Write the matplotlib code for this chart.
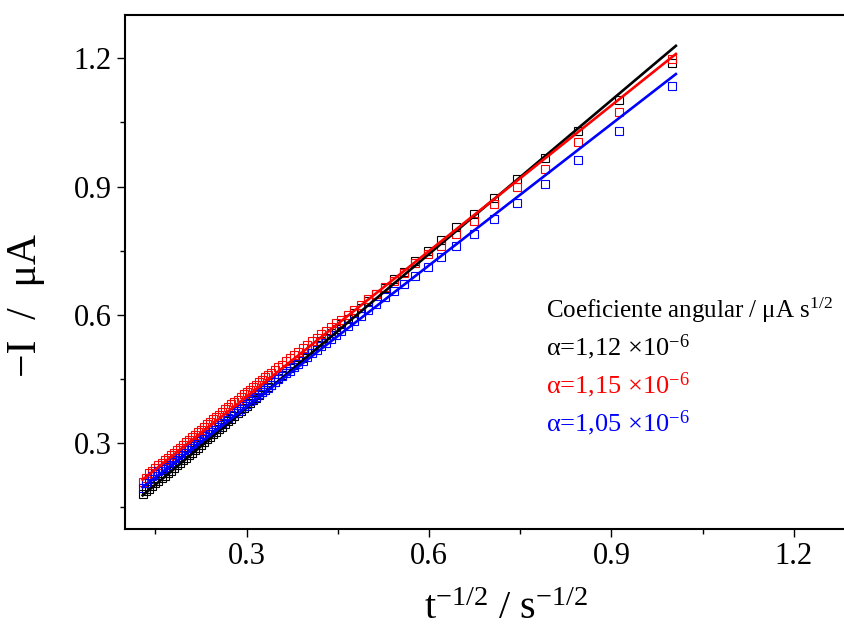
import numpy as np
import matplotlib

matplotlib.use("Agg")
import matplotlib.pyplot as plt
from matplotlib.ticker import MultipleLocator

plt.rcParams["font.family"] = ["Liberation Serif", "DejaVu Serif"]
plt.rcParams["mathtext.fontset"] = "custom"
plt.rcParams["mathtext.rm"] = "Liberation Serif"
plt.rcParams["mathtext.it"] = "Liberation Serif:italic"

# t^-1/2 values (s^-1/2)
x = [1.000, 0.913, 0.845, 0.791, 0.745, 0.707, 0.674, 0.645, 0.620, 0.598,
     0.577, 0.559, 0.542, 0.527, 0.513, 0.500, 0.488, 0.477, 0.466, 0.456,
     0.447, 0.439, 0.430, 0.423, 0.415, 0.408, 0.400, 0.392, 0.385, 0.378,
     0.371, 0.365, 0.358, 0.352, 0.346, 0.340, 0.335, 0.330, 0.325, 0.320,
     0.315, 0.310, 0.305, 0.300, 0.295, 0.290, 0.285, 0.280, 0.275, 0.270,
     0.265, 0.260, 0.255, 0.250, 0.245, 0.240, 0.235, 0.230, 0.225, 0.220,
     0.215, 0.210, 0.205, 0.200, 0.195, 0.190, 0.185, 0.180, 0.175, 0.170,
     0.165, 0.160, 0.155, 0.150, 0.145, 0.140, 0.135, 0.130]

# -I (uA)
i_black = [1.190, 1.103, 1.029, 0.967, 0.917, 0.873, 0.837, 0.805, 0.776, 0.749,
           0.725, 0.701, 0.683, 0.664, 0.648, 0.632, 0.617, 0.604, 0.591, 0.579,
           0.568, 0.558, 0.547, 0.538, 0.529, 0.520, 0.510, 0.500, 0.492, 0.483,
           0.475, 0.468, 0.459, 0.452, 0.444, 0.437, 0.431, 0.425, 0.419, 0.412,
           0.406, 0.400, 0.394, 0.388, 0.382, 0.376, 0.370, 0.364, 0.357, 0.351,
           0.345, 0.339, 0.333, 0.327, 0.321, 0.315, 0.309, 0.302, 0.296, 0.290,
           0.284, 0.278, 0.272, 0.266, 0.260, 0.254, 0.248, 0.242, 0.236, 0.230,
           0.224, 0.218, 0.212, 0.206, 0.200, 0.194, 0.188, 0.182]
i_red = [1.199, 1.074, 1.004, 0.940, 0.899, 0.859, 0.820, 0.788, 0.762, 0.743,
         0.721, 0.699, 0.679, 0.665, 0.650, 0.636, 0.623, 0.611, 0.599, 0.588,
         0.580, 0.572, 0.562, 0.555, 0.546, 0.539, 0.530, 0.522, 0.514, 0.506,
         0.499, 0.492, 0.484, 0.478, 0.471, 0.465, 0.459, 0.454, 0.448, 0.442,
         0.437, 0.431, 0.425, 0.420, 0.414, 0.408, 0.402, 0.397, 0.391, 0.385,
         0.379, 0.373, 0.367, 0.362, 0.356, 0.350, 0.344, 0.338, 0.332, 0.326,
         0.320, 0.314, 0.308, 0.302, 0.296, 0.290, 0.284, 0.278, 0.272, 0.266,
         0.260, 0.254, 0.248, 0.242, 0.236, 0.230, 0.219, 0.210]
i_blue = [1.135, 1.031, 0.962, 0.907, 0.862, 0.824, 0.790, 0.760, 0.735, 0.712,
          0.692, 0.673, 0.656, 0.642, 0.625, 0.611, 0.598, 0.586, 0.574, 0.563,
          0.553, 0.544, 0.534, 0.527, 0.518, 0.510, 0.502, 0.493, 0.485, 0.478,
          0.470, 0.463, 0.456, 0.449, 0.443, 0.436, 0.430, 0.425, 0.420, 0.414,
          0.409, 0.403, 0.398, 0.392, 0.387, 0.381, 0.376, 0.370, 0.365, 0.359,
          0.354, 0.348, 0.343, 0.338, 0.332, 0.327, 0.321, 0.316, 0.310, 0.305,
          0.299, 0.294, 0.288, 0.283, 0.277, 0.272, 0.266, 0.261, 0.255, 0.250,
          0.245, 0.239, 0.234, 0.228, 0.223, 0.217, 0.208, 0.195]

# linear fits (end points)
fit_x = [0.129, 1.006]
fit_black = [0.178, 1.229]
fit_red = [0.215, 1.210]
fit_blue = [0.197, 1.163]

labels = ["\u03b1=1,12 \u00d710$^{-6}$",
          "\u03b1=1,15 \u00d710$^{-6}$",
          "\u03b1=1,05 \u00d710$^{-6}$"]
colors = ["black", "red", "blue"]

fig = plt.figure(figsize=(8.45, 6.31), dpi=100)
ax = fig.add_axes([0.148, 0.162, 0.8634, 0.8135])

for yv, c in zip((i_black, i_red, i_blue), colors):
    ax.plot(x, yv, "s", ms=5.6, mfc="none", mec=c, mew=0.8, ls="none")
for yv, c in zip((fit_black, fit_red, fit_blue), colors):
    ax.plot(fit_x, yv, "-", color=c, lw=1.9)

ax.set_xlim(0.1, 1.3)
ax.set_ylim(0.1, 1.3)
ax.xaxis.set_major_locator(MultipleLocator(0.3))
ax.xaxis.set_minor_locator(MultipleLocator(0.15))
ax.yaxis.set_major_locator(MultipleLocator(0.3))
ax.yaxis.set_minor_locator(MultipleLocator(0.15))
ax.tick_params(which="both", direction="out", width=1.0, labelsize=22)
ax.tick_params(which="major", length=6)
ax.tick_params(which="minor", length=3.5)
for s in ax.spines.values():
    s.set_linewidth(1.5)

fig.text(26 / 845, 1 - 306 / 631, "\u2212I  /  \u03bcA", rotation=90,
         ha="center", va="center", fontsize=30)
fig.text(506 / 845, 0.004, r"t$^{-1/2}$ / s$^{-1/2}$", ha="center",
         va="bottom", fontsize=29)

ax.text(546 / 845, 1 - 318 / 631, "Coeficiente angular / \u03bcA s$^{1/2}$",
        transform=fig.transFigure, fontsize=18, va="baseline")
for k, (lab, c) in enumerate(zip(labels, colors)):
    ax.text(546 / 845, 1 - (355 + 38 * k) / 631, lab, color=c,
            transform=fig.transFigure, fontsize=19, va="baseline")

fig.savefig("out.png", dpi=100)
